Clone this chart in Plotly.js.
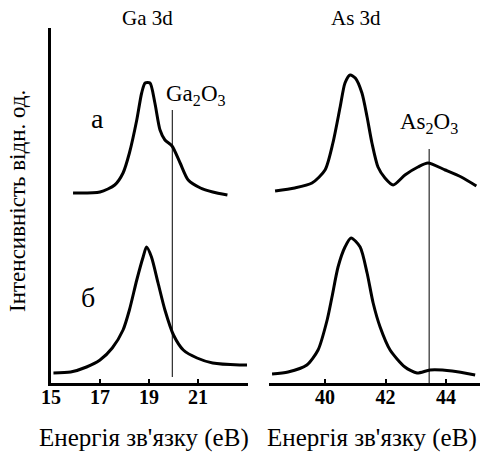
<!DOCTYPE html>
<html>
<head>
<meta charset="utf-8">
<script src="https://cdn.plot.ly/plotly-3.0.1.min.js"></script>
<style>html,body{margin:0;padding:0;background:#fff;}#chart{width:486px;height:457px;}</style>
</head>
<body>
<div id="chart"></div>
<script>
// Ga 3d, curve "а"
const gaAE = [15.9, 17.0, 17.6, 17.94, 18.2, 18.5, 18.7, 18.84, 19.04, 19.24, 19.45, 19.65, 19.94, 20.27, 20.6, 21.1, 21.6, 22.2];
const gaAI = [190, 191, 198, 210, 230, 263, 290, 300, 300, 280, 253, 243, 237, 220, 203, 195, 191, 188];
// Ga 3d, curve "б"
const gaBE = [15.1, 15.8, 16.45, 17.0, 17.5, 17.94, 18.2, 18.5, 18.76, 18.9, 19.1, 19.37, 19.65, 20.0, 20.4, 20.96, 21.6, 22.7, 23.0];
const gaBI = [10, 11, 16, 23, 35, 53, 73, 103, 126, 136, 126, 100, 73, 48, 33, 25, 20, 18, 18];
// As 3d, curve "а"
const asAE = [38.35, 39.0, 39.57, 40.0, 40.26, 40.5, 40.66, 40.83, 41.0, 41.22, 41.39, 41.55, 41.75, 41.98, 42.25, 42.64, 43.07, 43.4, 43.97, 44.5, 45.0];
const asAI = [192, 195, 200, 213, 240, 276, 300, 308, 305, 290, 266, 240, 216, 205, 198, 208, 216, 220, 213, 206, 197];
// As 3d, curve "б"
const asBE = [38.25, 38.78, 39.4, 39.77, 40.07, 40.23, 40.43, 40.66, 40.86, 41.16, 41.39, 41.59, 41.82, 42.15, 42.64, 43.04, 43.47, 44.2, 44.96];
const asBI = [9, 11, 18, 33, 63, 86, 116, 136, 145, 136, 110, 80, 56, 33, 16, 10, 13, 12, 8];
// oxide marker lines
const gaOxideE = [19.95, 19.95];
const gaOxideI = [6, 273];
const asOxideE = [43.44, 43.44];
const asOxideI = [0, 234];
// ticks
const gaTicks = [15, 17, 19, 21];
const asTicks = [40, 42, 44];

const serif = '"Liberation Serif", "Times New Roman", Times, serif';
const curve = {mode: 'lines', line: {color: '#000', width: 3, shape: 'spline', smoothing: 0.7}, hoverinfo: 'skip', showlegend: false};
const marker = {mode: 'lines', line: {color: '#000', width: 1}, hoverinfo: 'skip', showlegend: false};

const data = [
  Object.assign({x: gaAE, y: gaAI, xaxis: 'x', yaxis: 'y'}, curve),
  Object.assign({x: gaBE, y: gaBI, xaxis: 'x', yaxis: 'y'}, curve),
  Object.assign({x: gaOxideE, y: gaOxideI, xaxis: 'x', yaxis: 'y'}, marker),
  Object.assign({x: asAE, y: asAI, xaxis: 'x2', yaxis: 'y'}, curve),
  Object.assign({x: asBE, y: asBI, xaxis: 'x2', yaxis: 'y'}, curve),
  Object.assign({x: asOxideE, y: asOxideI, xaxis: 'x2', yaxis: 'y'}, marker)
];

const tickFont = {family: serif, size: 20, color: '#000', weight: 'bold'};
const axisCommon = {
  showline: true, linecolor: '#000', linewidth: 3, showgrid: false, zeroline: false,
  ticks: 'inside', ticklen: 4, tickwidth: 2, tickcolor: '#000', tickfont: tickFont, fixedrange: true,
  ticklabelstandoff: -6
};

const layout = {
  width: 486, height: 457,
  margin: {l: 51, r: 6, t: 28, b: 74},
  paper_bgcolor: '#fff', plot_bgcolor: '#fff',
  font: {family: serif, color: '#000'},
  xaxis: Object.assign({domain: [0, 0.4592], range: [15, 23.04], tickvals: gaTicks, anchor: 'y'}, axisCommon),
  xaxis2: Object.assign({domain: [0.5082, 1], range: [38.15, 45.12], tickvals: asTicks, anchor: 'y'}, axisCommon),
  yaxis: {domain: [0, 1], range: [0, 355], showline: true, linecolor: '#000', linewidth: 3, showgrid: false,
          zeroline: false, showticklabels: false, ticks: '', fixedrange: true, anchor: 'x'},
  annotations: [
    {text: 'Ga 3d', xref: 'paper', yref: 'paper', x: 0.226, y: 1.028, showarrow: false, xanchor: 'center', yanchor: 'middle', font: {family: serif, size: 21, color: '#000'}},
    {text: 'As 3d', xref: 'paper', yref: 'paper', x: 0.711, y: 1.028, showarrow: false, xanchor: 'center', yanchor: 'middle', font: {family: serif, size: 21, color: '#000'}},
    {text: 'Енергія зв\'язку (еВ)', xref: 'paper', yref: 'paper', x: 0.2168, y: -0.155, showarrow: false, xanchor: 'center', yanchor: 'middle', font: {family: serif, size: 25, color: '#000'}},
    {text: 'Енергія зв\'язку (еВ)', xref: 'paper', yref: 'paper', x: 0.748, y: -0.155, showarrow: false, xanchor: 'center', yanchor: 'middle', font: {family: serif, size: 25, color: '#000'}},
    {text: 'Інтенсивність відн. од.', xref: 'paper', yref: 'paper', x: -0.0769, y: 0.513, showarrow: false, textangle: -90, xanchor: 'center', yanchor: 'middle', font: {family: serif, size: 23, color: '#000'}},
    {text: 'а', xref: 'x', yref: 'y', x: 16.88, y: 265, showarrow: false, xanchor: 'center', yanchor: 'middle', font: {family: serif, size: 28, color: '#000'}},
    {text: 'б', xref: 'x', yref: 'y', x: 16.5, y: 86, showarrow: false, xanchor: 'center', yanchor: 'middle', font: {family: serif, size: 28, color: '#000'}},
    {text: 'Ga<sub>2</sub>O<sub>3</sub>', xref: 'x', yref: 'y', x: 19.61, y: 288, showarrow: false, xanchor: 'left', yanchor: 'middle', font: {family: serif, size: 23, color: '#000'}},
    {text: 'As<sub>2</sub>O<sub>3</sub>', xref: 'x2', yref: 'y', x: 42.41, y: 260, showarrow: false, xanchor: 'left', yanchor: 'middle', font: {family: serif, size: 23, color: '#000'}}
  ]
};

Plotly.newPlot('chart', data, layout, {displayModeBar: false, staticPlot: true});
</script>
</body>
</html>
